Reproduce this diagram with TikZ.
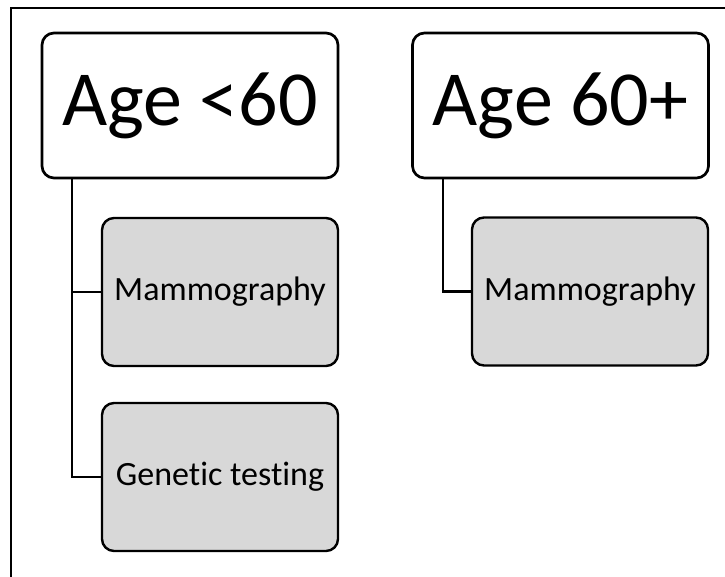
\documentclass[tikz,border=0pt]{standalone}
\usepackage{fontspec}
\setmainfont[RawFeature=-liga]{Carlito}
\definecolor{boxgray}{RGB}{216,216,216}
\usepackage{tikz}
\usetikzlibrary{calc, positioning}

\begin{document}
\begin{tikzpicture}[
  x=0.75pt, y=-0.75pt,
  agebox/.style={draw=black, fill=white, rounded corners=9pt, line width=2pt,
    minimum width=222pt, minimum height=108.75pt, inner sep=0pt,
    font=\fontsize{58.5}{70}\selectfont, align=center},
  testbox/.style={draw=black, fill=boxgray, rounded corners=9pt, line width=1.8pt,
    minimum width=177pt, minimum height=111pt, inner sep=0pt,
    font=\fontsize{25.5}{30}\selectfont, align=center},
  link/.style={black, line width=1.7pt},
]
  \useasboundingbox (0,0) rectangle (725,577);
  % frame
  \draw[line width=1.5pt] (10,8) -- (725,8);
  \draw[line width=1.5pt] (11,8) -- (11,577);

  \node[agebox] (young) at (190, 105.5) {Age <60};
  \node[agebox] (old) at (560.5, 105.5) {Age 60+};

  \node[testbox] (mammoA) at (220, 292) {Mammography};
  \node[testbox] (genetic) at (220, 477) {Genet\kern0pt ic test\kern0pt ing};
  \node[testbox] (mammoB) at (590, 291.5) {Mammography};

  \coordinate (trunkA) at (72, 178);
  \coordinate (trunkB) at (443, 178);
  \draw[link] (trunkA) |- (mammoA.west);
  \draw[link] (trunkA) |- (genetic.west);
  \draw[link] (trunkB) |- (mammoB.west);
\end{tikzpicture}
\end{document}
